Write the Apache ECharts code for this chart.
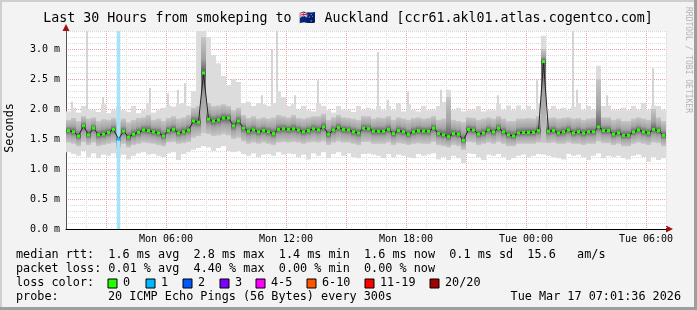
<!DOCTYPE html>
<html><head><meta charset="utf-8">
<script src="https://cdn.jsdelivr.net/npm/echarts@6/dist/echarts.min.js"></script>
<style>html,body{margin:0;padding:0;background:#f3f3f3}#c{width:697px;height:310px}</style>
</head><body><div id="c"></div>
<script>
// ---- data (ms), 15-minute buckets starting Mon 01:00 ----
const startHour = 1;          // Mon 01:00
const bucketHours = 0.25;
const median = [
1.64,1.62,1.55,1.72,1.57,1.68,1.57,1.58,1.61,1.66,
1.50,1.63,1.53,1.58,1.61,1.65,1.64,1.62,1.60,1.55,
1.64,1.66,1.60,1.62,1.65,1.80,1.78,2.60,1.83,1.80,
1.82,1.85,1.85,1.72,1.80,1.68,1.63,1.65,1.62,1.64,
1.62,1.59,1.66,1.67,1.66,1.67,1.65,1.62,1.64,1.67,
1.65,1.70,1.58,1.65,1.69,1.66,1.65,1.62,1.60,1.68,
1.67,1.63,1.63,1.63,1.66,1.59,1.64,1.62,1.58,1.62,
1.64,1.63,1.63,1.68,1.59,1.57,1.54,1.59,1.58,1.48,
1.66,1.65,1.58,1.60,1.65,1.62,1.68,1.62,1.57,1.55,
1.60,1.61,1.61,1.61,1.64,2.79,1.63,1.64,1.60,1.62,
1.65,1.60,1.62,1.60,1.62,1.62,1.70,1.64,1.64,1.58,
1.60,1.56,1.56,1.62,1.65,1.62,1.60,1.66,1.64,1.56];
const smokeMax = [
1.96,2.02,1.94,2.05,2.00,1.98,1.95,2.08,1.93,1.98,
2.05,1.98,1.95,2.05,1.93,1.98,2.10,1.94,1.98,2.02,
2.06,2.04,2.08,2.10,2.05,2.30,3.30,3.30,3.20,2.90,
2.76,2.55,2.40,2.50,2.45,2.10,2.12,2.05,2.10,2.08,
2.05,2.10,2.30,2.20,2.05,2.08,1.98,2.05,1.98,1.96,
2.10,2.05,1.98,1.94,2.05,1.98,1.98,1.95,2.05,1.98,
2.02,1.98,2.05,1.98,2.05,1.98,2.10,1.96,2.08,1.98,
1.96,2.05,1.98,1.98,2.05,2.12,2.32,1.98,2.02,1.96,
1.98,1.98,2.05,1.96,1.98,1.98,2.08,1.98,2.06,1.98,
2.06,1.98,2.05,1.98,2.10,3.22,1.98,2.05,1.98,2.02,
1.98,2.04,2.10,1.98,2.05,1.98,2.72,2.05,2.06,1.98,
1.98,2.02,1.98,2.05,1.98,2.10,1.98,2.06,2.05,1.98];
const smokeHi = [
1.82,1.85,1.80,1.88,1.84,1.86,1.80,1.83,1.82,1.85,
1.80,1.84,1.78,1.82,1.85,1.86,1.90,1.82,1.84,1.80,
1.85,1.88,1.84,1.86,1.90,2.02,2.05,3.20,2.10,2.05,
2.06,2.08,2.05,1.98,2.02,1.90,1.85,1.88,1.84,1.86,
1.84,1.86,1.90,1.88,1.86,1.90,1.85,1.84,1.86,1.88,
1.88,1.92,1.82,1.86,1.90,1.86,1.85,1.84,1.82,1.88,
1.88,1.84,1.86,1.85,1.88,1.82,1.86,1.84,1.82,1.85,
1.86,1.84,1.85,1.88,1.82,1.84,2.20,1.82,1.80,1.78,
1.86,1.85,1.82,1.84,1.86,1.84,1.88,1.84,1.80,1.80,
1.84,1.84,1.85,1.84,1.88,3.00,1.85,1.86,1.84,1.85,
1.86,1.84,1.85,1.82,1.84,1.85,2.50,1.86,1.86,1.82,
1.84,1.80,1.80,1.84,1.86,1.84,1.82,2.00,1.86,1.80];
const smokeLo = [
1.44,1.42,1.38,1.45,1.40,1.44,1.38,1.40,1.42,1.44,
1.35,1.42,1.36,1.40,1.42,1.44,1.43,1.42,1.40,1.38,
1.44,1.45,1.42,1.43,1.45,1.52,1.55,1.60,1.58,1.55,
1.56,1.58,1.56,1.50,1.52,1.46,1.42,1.44,1.42,1.44,
1.42,1.40,1.44,1.45,1.44,1.45,1.44,1.42,1.44,1.45,
1.44,1.46,1.40,1.44,1.46,1.44,1.44,1.42,1.40,1.45,
1.45,1.42,1.42,1.42,1.44,1.40,1.43,1.42,1.40,1.42,
1.43,1.42,1.42,1.45,1.40,1.38,1.36,1.40,1.38,1.32,
1.45,1.44,1.40,1.42,1.44,1.42,1.45,1.42,1.38,1.38,
1.42,1.42,1.42,1.42,1.44,1.44,1.43,1.44,1.42,1.42,
1.44,1.42,1.42,1.40,1.42,1.42,1.46,1.43,1.43,1.40,
1.42,1.38,1.38,1.42,1.44,1.42,1.40,1.44,1.43,1.38];
const smokeMin = [
1.28,1.25,1.22,1.30,1.20,1.26,1.18,1.24,1.22,1.26,
1.20,1.24,1.16,1.22,1.26,1.28,1.24,1.25,1.22,1.20,
1.26,1.28,1.15,1.25,1.28,1.32,1.35,1.38,1.36,1.30,
1.35,1.38,1.30,1.28,1.30,1.25,1.22,1.26,1.20,1.24,
1.25,1.22,1.28,1.24,1.26,1.25,1.20,1.24,1.16,1.26,
1.22,1.28,1.18,1.25,1.28,1.22,1.26,1.20,1.18,1.25,
1.26,1.24,1.22,1.18,1.25,1.20,1.24,1.22,1.20,1.18,
1.25,1.22,1.24,1.26,1.16,1.20,1.15,1.22,1.18,1.10,
1.26,1.25,1.20,1.15,1.24,1.22,1.25,1.20,1.15,1.18,
1.22,1.24,1.20,1.22,1.25,1.24,1.22,1.20,1.18,1.16,
1.25,1.22,1.24,1.20,1.15,1.22,1.26,1.18,1.22,1.20,
1.22,1.18,1.16,1.22,1.24,1.20,1.12,1.20,1.15,1.18];
// narrow single-ping outliers (hour since Mon 00:00, top value ms)
const spikeHours = [1.30,2.05,2.85,5.20,6.10,6.60,6.95,7.65,8.60,10.80,11.30,11.55,12.45,13.60,16.60,17.10,18.10,19.75,22.60,24.55,26.35,26.55,28.05,30.35];
const spikeTops  = [2.12,3.30,2.20,2.35,2.26,2.32,2.43,3.30,2.76,2.23,3.00,3.30,2.23,2.48,2.95,2.15,2.29,2.32,2.23,2.48,3.30,2.32,2.23,2.68];
const lossBuckets = [10];     // bucket index with packet loss
const lossCounts = [1];       // lost pings (of 20)
const xTickHours = [6, 12, 18, 24, 30];
const xTickLabels = ['Mon 06:00', 'Mon 12:00', 'Mon 18:00', 'Tue 00:00', 'Tue 06:00'];
const lossColorLabels = ['0', '1', '2', '3', '4-5', '6-10', '11-19', '20/20'];
const lossColors = ['#26ff00', '#00b8ff', '#0059ff', '#7e00ff', '#ff00ff', '#ff5500', '#ff0000', '#a10000'];

// ---- build ----
const tOf = i => startHour + bucketHours * i + bucketHours / 2;
const outer = median.map((m, i) => [tOf(i), smokeMin[i], smokeMax[i]]);
const inner = median.map((m, i) => [tOf(i), smokeLo[i], smokeHi[i], m]);
const spikes = spikeHours.map((h, k) => [h, spikeTops[k]]);
const lossMap = {};
lossBuckets.forEach((b, k) => lossMap[b] = lossCounts[k]);
const lossData = lossBuckets.map((b, k) => [tOf(b), lossCounts[k]]);
const medData = median.map((m, i) => {
  const lc = lossMap[i] || 0;
  return { value: [tOf(i), m], itemStyle: { color: lossColors[Math.min(lc, 1)] } };
});

function outerBand(params, api) {
  const t = api.value(0), lo = api.value(1), hi = api.value(2);
  const a = api.coord([t - bucketHours / 2, hi]);
  const b = api.coord([t + bucketHours / 2, lo]);
  return { type: 'rect', shape: { x: a[0], y: a[1], width: b[0] - a[0], height: b[1] - a[1] }, style: { fill: '#dcdcdc' } };
}
function innerBand(params, api) {
  const t = api.value(0), lo = api.value(1), hi = api.value(2), m = api.value(3);
  const a = api.coord([t - bucketHours / 2, hi]);
  const b = api.coord([t + bucketHours / 2, lo]);
  const my = api.coord([t, m])[1];
  let f = (my - a[1]) / (b[1] - a[1]);
  f = Math.max(0.05, Math.min(0.95, f));
  const fill = new echarts.graphic.LinearGradient(0, 0, 0, 1, [
    { offset: 0, color: '#c6c6c6' }, { offset: f * 0.6, color: '#a4a4a4' },
    { offset: f, color: '#5e5e5e' },
    { offset: f + (1 - f) * 0.4, color: '#a4a4a4' }, { offset: 1, color: '#c6c6c6' }]);
  return { type: 'rect', shape: { x: a[0], y: a[1], width: b[0] - a[0], height: b[1] - a[1] }, style: { fill: fill } };
}
function spikeItem(params, api) {
  const t = api.value(0), top = api.value(1);
  const a = api.coord([t - 0.05, top]);
  const b = api.coord([t + 0.05, 1.7]);
  return { type: 'rect', shape: { x: a[0], y: a[1], width: Math.max(2, b[0] - a[0]), height: b[1] - a[1] }, style: { fill: '#d4d4d4' } };
}
function lossBand(params, api) {
  const t = api.value(0);
  const a = api.coord([t - bucketHours * 0.35, 3.3]);
  const b = api.coord([t + bucketHours * 0.35, 0]);
  return { type: 'rect', shape: { x: a[0], y: a[1], width: b[0] - a[0], height: b[1] - a[1] }, style: { fill: '#a6e2f8' } };
}

const mono = '"DejaVu Sans Mono", monospace';
const legF = '11.8px ' + mono;
function txt(text, x, y, font, extra) {
  return Object.assign({ type: 'text', x: x, y: y, silent: true,
    style: Object.assign({ text: text, font: font, fill: '#000', textVerticalAlign: 'middle' }, extra || {}) });
}
const graphics = [
  { type: 'rect', shape: { x: 0, y: 0, width: 697, height: 2 }, style: { fill: '#cfcfcf' } },
  { type: 'rect', shape: { x: 0, y: 0, width: 2, height: 310 }, style: { fill: '#cfcfcf' } },
  { type: 'rect', shape: { x: 0, y: 307, width: 697, height: 3 }, style: { fill: '#9e9e9e' } },
  { type: 'rect', shape: { x: 694, y: 0, width: 3, height: 310 }, style: { fill: '#9e9e9e' } },
  txt('Last 30 Hours from smokeping to \uD83C\uDDF3\uD83C\uDDFF Auckland [ccr61.akl01.atlas.cogentco.com]', 348, 19, '13.3px ' + mono, { textAlign: 'center' }),
  Object.assign(txt('Seconds', 10, 128, '11.8px ' + mono, { textAlign: 'center' }), { rotation: Math.PI / 2 }),
  Object.assign(txt('RRDTOOL / TOBI OETIKER', 688, 60, '8px ' + mono, { textAlign: 'center', fill: '#b4b4b4' }), { rotation: -Math.PI / 2 }),
  txt('median rtt:  1.6 ms avg  2.8 ms max  1.4 ms min  1.6 ms now  0.1 ms sd  15.6   am/s', 16, 255, legF),
  txt('packet loss: 0.01 % avg  4.40 % max  0.00 % min  0.00 % now', 16, 269, legF),
  txt('loss color:', 16, 283, legF),
  txt('probe:', 16, 297, legF),
  txt('20 ICMP Echo Pings (56 Bytes) every 300s', 108, 297, legF),
  txt('Tue Mar 17 07:01:36 2026', 681, 297, legF, { textAlign: 'right' }),
  { type: 'polygon', shape: { points: [[666, 225.5], [673, 229], [666, 232.5]] }, style: { fill: '#a01010' } },
  { type: 'polygon', shape: { points: [[62.5, 31], [66, 24], [69.5, 31]] }, style: { fill: '#a01010' } }
];
const boxX = [108, 146, 183, 220, 256, 307, 365, 430];
lossColorLabels.forEach((l, k) => {
  graphics.push({ type: 'rect', shape: { x: boxX[k], y: 279, width: 9, height: 9 }, style: { fill: lossColors[k], stroke: '#000', lineWidth: 1 } });
  graphics.push(txt(l, boxX[k] + 15, 283, legF));
});

const chart = echarts.init(document.getElementById('c'), null, { renderer: 'canvas' });
chart.setOption({
  backgroundColor: '#f3f3f3',
  animation: false,
  grid: { left: 66, right: 31, top: 31, bottom: 81, show: true, backgroundColor: '#ffffff', borderWidth: 0 },
  xAxis: {
    type: 'value', min: 1, max: 31, interval: 1,
    axisLine: { show: true, onZero: false, lineStyle: { color: '#000', width: 1 } },
    axisTick: { show: false },
    axisLabel: {
      fontFamily: mono, fontSize: 10, color: '#000', margin: 5,
      formatter: v => { const k = xTickHours.indexOf(Math.round(v)); return k >= 0 ? xTickLabels[k] : ''; }
    },
    splitLine: { show: true, lineStyle: { color: ['#dadada', '#dadada', '#eaa0a0'], type: [1, 1], width: 1 } }
  },
  yAxis: {
    type: 'value', min: 0, max: 3.3, interval: 0.1,
    axisLine: { show: true, lineStyle: { color: '#555', width: 1 } },
    axisTick: { show: false },
    axisLabel: {
      fontFamily: mono, fontSize: 10, color: '#000', margin: 6,
      formatter: v => { const r = Math.round(v * 10); return r % 5 === 0 ? (r / 10).toFixed(1) + ' m' : ''; }
    },
    splitLine: { show: true, lineStyle: { color: ['#eaa0a0', '#dadada', '#dadada', '#dadada', '#dadada'], type: [1, 1], width: 1 } }
  },
  series: [
    { type: 'custom', renderItem: spikeItem, data: spikes, encode: { x: 0, y: 1 }, silent: true, z: 2 },
    { type: 'custom', renderItem: outerBand, data: outer, encode: { x: 0, y: [1, 2] }, silent: true, z: 2 },
    { type: 'custom', renderItem: innerBand, data: inner, encode: { x: 0, y: [1, 2] }, silent: true, z: 3 },
    { type: 'custom', renderItem: lossBand, data: lossData, encode: { x: 0 }, silent: true, z: 4 },
    { type: 'line', data: medData, symbol: 'rect', symbolSize: [3, 3], showSymbol: true, showAllSymbol: true,
      lineStyle: { color: '#202020', width: 1 }, silent: true, z: 6 }
  ],
  graphic: graphics
});
</script></body></html>
